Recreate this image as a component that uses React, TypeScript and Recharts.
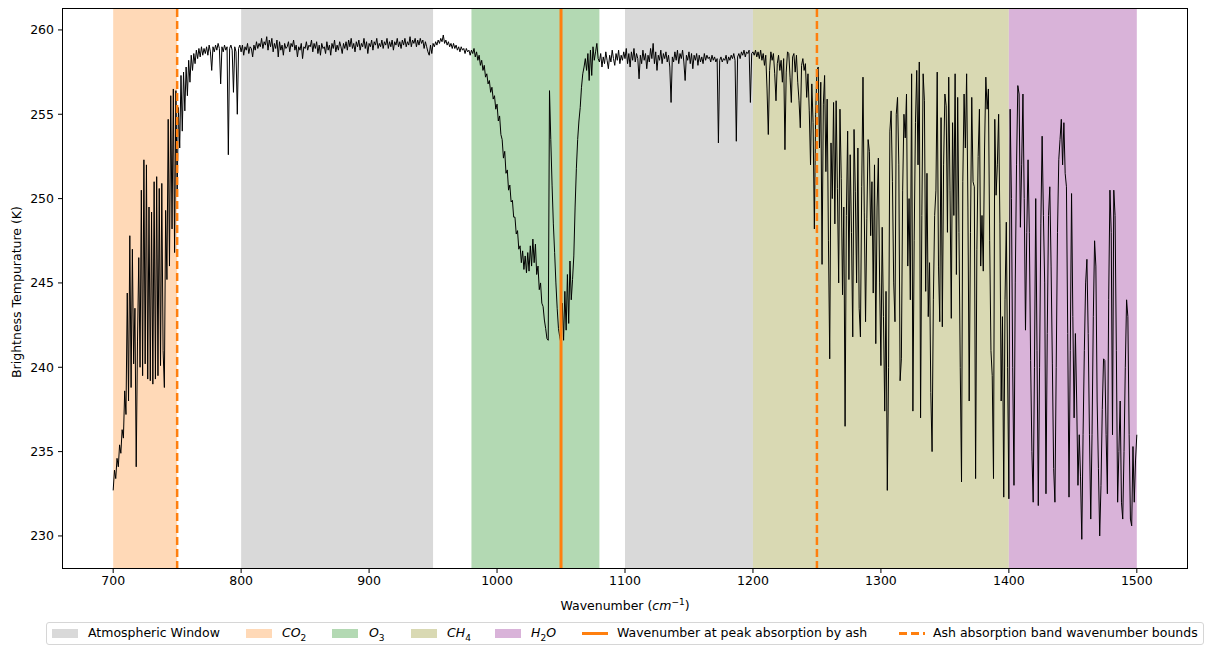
import { LineChart, Line, XAxis, YAxis, ReferenceArea, ReferenceLine } from "recharts";

// brightness temperature (K) sampled every 1 cm^-1, one array per spectral band
const co2Start = 700;
const co2Temps = [
  232.7, 233.9, 233.4, 234.6, 234.1, 235.4, 234.9, 236.3, 235.8, 238.6,
  237.2, 244.4, 238.0, 247.8, 238.8, 247.0, 240.2, 243.5, 234.1, 241.5,
  246.5, 240.0, 250.5, 239.5, 252.3, 240.2, 252.0, 239.3, 249.5, 239.2,
  249.2, 239.0, 251.0, 239.3, 251.3, 239.5, 250.6, 240.1, 250.9, 241.0,
  238.8, 249.3, 245.2, 254.7, 246.0, 256.1, 248.2, 256.5, 246.8, 256.4,
  250.3, 255.4, 253.0, 257.3, 254.0, 257.5, 255.2, 257.8, 256.1, 258.2,
  256.9, 258.5, 257.6, 258.6, 258.0, 258.8, 258.3, 258.9, 258.4, 259.0,
  258.5, 258.9, 258.6, 259.0, 258.5, 259.1, 258.7, 257.6, 259.0, 258.7,
  259.1, 258.8, 259.2, 258.9, 256.8, 259.0, 258.7, 259.1, 258.8, 259.0,
  252.6, 258.9, 259.1, 258.8, 256.3, 259.0, 258.7, 255.0, 258.9, 259.1,
];

const windowStart = 800;
const windowTemps = [
  258.7, 259.1, 258.5, 259.0, 258.8, 259.2, 258.6, 259.0, 258.9, 258.4,
  259.1, 258.8, 259.3, 258.9, 259.2, 259.0, 259.5, 258.9, 259.3, 259.1,
  259.6, 258.8, 259.4, 259.0, 259.5, 258.7, 259.2, 258.9, 259.4, 258.4,
  259.3, 258.8, 259.1, 258.5, 259.2, 258.9, 259.0, 259.3, 258.7, 259.2,
  259.0, 259.4, 258.8, 259.1, 258.4, 259.0, 258.8, 259.2, 258.3, 259.0,
  258.9, 259.3, 258.8, 259.1, 259.0, 259.4, 258.7, 259.2, 258.9, 259.3,
  258.6, 259.1, 258.5, 259.2, 258.9, 259.0, 258.6, 259.3, 258.8, 259.1,
  258.5, 259.2, 258.9, 259.4, 258.7, 259.1, 258.8, 259.3, 259.0, 258.6,
  259.2, 258.9, 259.3, 258.8, 259.4, 259.0, 259.5, 258.9, 259.2, 258.7,
  259.3, 259.0, 259.4, 258.8, 259.2, 259.0, 259.5, 258.9, 259.3, 258.6,
  259.2, 259.0, 259.4, 258.8, 259.3, 259.1, 259.5, 258.9, 259.2, 259.0,
  259.4, 258.9, 259.3, 259.1, 259.5, 258.9, 259.3, 259.0, 259.4, 258.8,
  259.3, 259.1, 259.5, 259.0, 259.3, 258.9, 259.4, 259.1, 259.5, 259.0,
  259.3, 259.1, 259.6, 259.0, 259.4, 259.2, 259.5, 259.0, 259.4, 259.1,
  259.5, 259.2, 259.4, 258.9, 259.3, 259.0, 258.7, 258.5, 259.1, 258.6,
  259.2, 259.0, 259.3, 259.1, 259.4, 259.2, 259.5, 259.3, 259.7, 259.2,
  259.4, 259.1, 259.3, 259.0, 259.2, 258.9, 259.2, 258.9, 259.1, 258.8,
  259.0, 258.7, 259.0, 258.8, 258.9, 258.6, 258.9, 258.7, 258.8, 258.5,
];

const ozoneStart = 980;
const ozoneTemps = [
  258.8, 258.6, 258.9, 258.4, 258.7, 258.2, 258.5, 257.9, 258.2, 257.6,
  257.9, 257.2, 257.4, 256.8, 257.0, 256.3, 256.6, 255.9, 256.1, 255.3,
  255.6, 254.6, 254.9, 253.8, 253.5, 252.4, 252.8, 251.5, 251.7, 250.5,
  250.8, 249.8, 249.9, 248.9, 248.9, 247.9, 248.1, 247.0, 247.2, 246.2,
  246.9, 245.8, 246.6, 245.6, 246.8, 245.7, 247.2, 246.0, 247.6, 246.2,
  247.3, 245.5, 246.0, 244.6, 245.0, 243.8, 243.6, 242.8, 242.3, 241.7,
  241.6, 256.4, 253.5, 250.8, 248.5, 246.8, 245.0, 243.5, 242.3, 241.8,
  241.4, 243.8, 241.6, 244.5, 242.2, 245.5, 242.6, 246.3, 244.0, 245.2,
  246.6, 249.5, 251.8, 253.5, 254.6, 255.4, 256.6, 257.4, 257.8, 258.3,
  257.6, 258.6, 257.0, 258.8, 257.3, 259.0, 258.2, 258.7, 259.2, 258.3,
];

const window2Start = 1080;
const window2Temps = [
  258.1, 258.6, 257.8, 258.4, 258.0, 258.7, 258.2, 257.7, 258.5, 258.1,
  258.8, 258.3, 257.9, 258.6, 258.2, 258.8, 258.0, 258.5, 258.2, 258.7,
  258.3, 258.9, 258.0, 258.6, 257.8, 258.7, 258.2, 258.9, 258.1, 258.6,
  258.3, 257.1, 258.5, 258.0, 258.8, 258.2, 258.6, 257.7, 258.5, 258.1,
  258.9, 258.3, 259.2, 258.0, 258.7, 257.6, 258.5, 258.2, 258.8, 258.0,
  258.6, 258.3, 258.7, 258.1, 258.5, 257.8, 255.7, 258.4, 258.1, 258.7,
  258.2, 258.8, 258.0, 258.6, 258.3, 258.8, 258.1, 257.0, 258.5, 258.2,
  258.7, 258.0, 258.6, 257.7, 258.5, 258.2, 258.6, 257.9, 258.5, 258.1,
  258.4, 258.0, 258.6, 258.2, 258.5, 258.3, 258.4, 258.1, 258.5, 258.2,
  258.4, 258.1, 258.3, 253.3, 258.2, 258.4, 258.1, 258.3, 258.2, 258.5,
  258.0, 258.4, 258.2, 258.5, 258.3, 258.6, 258.2, 253.4, 258.4, 258.6,
  258.3, 258.7, 258.5, 258.8, 258.4, 258.7, 258.6, 258.8, 255.7, 258.6,
];

const ch4Start = 1200;
const ch4Temps = [
  258.7, 258.5, 258.8, 258.4, 258.7, 258.3, 258.8, 258.2, 258.6, 257.9,
  258.5, 256.5, 253.8, 257.6, 258.7, 258.2, 258.6, 257.4, 255.8, 258.0,
  258.5, 257.6, 258.2, 256.9, 258.3, 252.9, 257.5, 258.7, 258.6, 257.2,
  255.7, 258.4, 258.6, 257.5, 258.5, 256.9, 255.8, 254.2, 257.9, 258.3,
  257.6, 258.0, 256.0, 257.4, 255.2, 252.0, 256.8, 254.5, 248.2, 255.0,
  257.6, 257.8, 253.0, 256.9, 246.1, 255.6, 257.3, 251.6, 255.9, 247.5,
  240.5, 253.3, 250.0, 255.7, 248.5, 255.8, 250.6, 245.0, 255.3, 251.2,
  244.3, 249.5, 236.5, 249.0, 254.0, 245.2, 252.6, 248.0, 241.8, 254.1,
  250.4, 245.0, 253.0, 243.5, 241.8, 250.7, 257.2, 249.2, 242.7, 248.8,
  253.5, 252.8, 247.8, 251.0, 244.4, 252.0, 241.4, 249.5, 252.4, 245.0,
  240.1, 248.3, 243.0, 237.4, 244.5, 232.7, 240.0, 254.0, 255.2, 251.0,
  245.0, 242.7, 255.0, 256.0, 252.0, 239.2, 240.5, 250.5, 255.0, 253.6,
  256.2, 246.0, 250.0, 244.0, 257.4, 237.4, 247.5, 254.5, 257.6, 252.0,
  258.1, 237.0, 249.0, 257.4, 255.8, 244.5, 251.5, 243.0, 246.2, 238.5,
  235.0, 244.0, 249.0, 250.5, 257.5, 246.0, 242.7, 254.8, 242.4, 252.0,
  256.2, 255.5, 248.0, 257.2, 250.5, 242.9, 254.5, 249.0, 257.4, 245.5,
  256.0, 248.0, 240.0, 233.2, 251.0, 256.2, 253.0, 257.4, 249.5, 238.0,
  248.0, 256.0, 251.0, 250.7, 233.4, 247.0, 252.5, 255.3, 246.0, 249.0,
  245.7, 253.0, 257.2, 255.3, 256.5, 247.5, 241.0, 239.5, 233.4, 254.7,
  250.2, 252.0, 255.0, 248.5, 238.0, 243.0, 232.3, 244.0, 248.6, 240.0,
];

const h2oStart = 1400;
const h2oTemps = [
  232.2, 255.3, 250.0, 240.0, 233.0, 245.0, 252.0, 256.7, 256.2, 248.3,
  252.0, 256.2, 250.0, 242.2, 248.0, 252.3, 248.0, 240.4, 235.0, 232.0,
  240.0, 250.0, 241.0, 231.8, 240.0, 248.5, 253.7, 249.0, 245.0, 232.5,
  242.0, 249.0, 250.7, 246.0, 240.2, 234.0, 232.0, 240.0, 248.0, 252.3,
  253.5, 254.7, 252.0, 254.5, 251.5, 250.7, 242.0, 232.3, 241.0, 250.3,
  243.0, 237.0, 242.0, 238.0, 233.0, 236.0, 233.5, 229.8, 236.0, 241.0,
  245.0, 246.4, 242.0, 236.0, 231.0, 236.0, 243.0, 247.5, 246.0, 238.0,
  234.0, 230.0, 233.0, 237.5, 240.5, 240.4, 236.0, 232.5, 244.0, 250.5,
  248.0, 236.0, 250.5, 249.0, 241.0, 232.0, 235.0, 238.0, 232.0, 231.0,
  235.0, 240.0, 244.0, 243.0, 236.0, 231.0, 230.6, 235.3, 232.0, 234.5,
  236.0,
];

const xTicks = [700, 800, 900, 1000, 1100, 1200, 1300, 1400, 1500];
const yTicks = [230, 235, 240, 245, 250, 255, 260];

const bands = [
  { name: "Atmospheric Window", x1: 800, x2: 950, color: "#d9d9d9" },
  { name: "Atmospheric Window", x1: 1100, x2: 1200, color: "#d9d9d9" },
  { name: "CO2", x1: 700, x2: 750, color: "#ffd9b7" },
  { name: "O3", x1: 980, x2: 1080, color: "#b3d9b3" },
  { name: "CH4", x1: 1200, x2: 1400, color: "#d9d9b3" },
  { name: "H2O", x1: 1400, x2: 1500, color: "#d9b3d9" },
];

const peakAsh = 1050;
const ashBounds = [750, 1250];

const segments: [number, number[]][] = [
  [co2Start, co2Temps],
  [windowStart, windowTemps],
  [ozoneStart, ozoneTemps],
  [window2Start, window2Temps],
  [ch4Start, ch4Temps],
  [h2oStart, h2oTemps],
];
const spectrum = segments.flatMap(([start, temps]) => temps.map((t, i) => ({ wn: start + i, t })));

const ORANGE = "#ff7f0e";
const font = "'DejaVu Sans', sans-serif";
const FS = 12.5;
const tickStyle = { fill: "#000", fontSize: FS, fontFamily: font };

const patch = (left: number, color: string) => (
  <div style={{ position: "absolute", left, top: 629, width: 26, height: 9, background: color }} />
);
const label = (left: number, children: any) => (
  <div style={{ position: "absolute", left, top: 625, fontSize: FS, lineHeight: "16px", whiteSpace: "nowrap" }}>{children}</div>
);

export default function App() {
  return (
    <div style={{ position: "absolute", left: 0, top: 0, width: 1208, height: 646, background: "#fff", fontFamily: font, color: "#000" }}>
      <LineChart width={1208} height={610} data={spectrum} margin={{ top: 8, right: 20, bottom: 0, left: 0 }} style={{ fontFamily: font }}>
        {bands.map((b, i) => (
          <ReferenceArea key={i} x1={b.x1} x2={b.x2} fill={b.color} fillOpacity={1} stroke="none" ifOverflow="hidden" zIndex={-50} />
        ))}
        <XAxis
          dataKey="wn"
          type="number"
          domain={[660, 1540]}
          ticks={xTicks}
          allowDataOverflow
          axisLine={false}
          tickSize={4}
          tickMargin={3}
          tickLine={{ stroke: "#000" }}
          tick={tickStyle}
          height={41}
        />
        <YAxis
          type="number"
          domain={[228.04, 261.3]}
          ticks={yTicks}
          allowDataOverflow
          axisLine={false}
          tickSize={4}
          tickMargin={4}
          tickLine={{ stroke: "#000" }}
          tick={tickStyle}
          width={62}
        />
        <Line dataKey="t" type="linear" stroke="#000" strokeWidth={1} dot={false} isAnimationActive={false} />
        {ashBounds.map((x) => (
          <ReferenceLine key={x} x={x} stroke={ORANGE} strokeWidth={2.5} strokeDasharray="8 4" zIndex={600} />
        ))}
        <ReferenceLine x={peakAsh} stroke={ORANGE} strokeWidth={3} zIndex={600} />
      </LineChart>

      {/* axes frame */}
      <div style={{ position: "absolute", left: 62, top: 8, width: 1126, height: 561, border: "1px solid #000", boxSizing: "border-box", pointerEvents: "none" }} />

      {/* axis labels */}
      <div style={{ position: "absolute", left: 0, top: 594, width: 1250, textAlign: "center", fontSize: FS, lineHeight: "16px" }}>
        Wavenumber (<i>cm</i><sup style={{ fontSize: 9 }}>−1</sup>)
      </div>
      <div style={{ position: "absolute", left: 16, top: 292, transform: "translate(-50%, -50%) rotate(-90deg)", fontSize: FS, whiteSpace: "nowrap" }}>
        Brightness Tempurature (K)
      </div>

      {/* legend */}
      <div style={{ position: "absolute", left: 46, top: 622, width: 1158, height: 23, border: "1px solid #d6d6d6", borderRadius: 3, boxSizing: "border-box" }} />
      {patch(52, "#d9d9d9")}
      {label(88, "Atmospheric Window")}
      {patch(246, "#ffd9b7")}
      {label(282, <><i>CO</i><sub style={{ fontSize: 9 }}>2</sub></>)}
      {patch(332, "#b3d9b3")}
      {label(369, <><i>O</i><sub style={{ fontSize: 9 }}>3</sub></>)}
      {patch(411, "#d9d9b3")}
      {label(447, <><i>CH</i><sub style={{ fontSize: 9 }}>4</sub></>)}
      {patch(495, "#d9b3d9")}
      {label(531, <><i>H</i><sub style={{ fontSize: 9 }}>2</sub><i>O</i></>)}
      <div style={{ position: "absolute", left: 582, top: 632, width: 26, height: 3, background: ORANGE }} />
      {label(617, "Wavenumber at peak absorption by ash")}
      <div style={{ position: "absolute", left: 899, top: 632, width: 26, height: 3, backgroundImage: `linear-gradient(to right, ${ORANGE} 0 8px, transparent 8px 12px, ${ORANGE} 12px 20px, transparent 20px 24px, ${ORANGE} 24px)` }} />
      {label(933, "Ash absorption band wavenumber bounds")}
    </div>
  );
}
